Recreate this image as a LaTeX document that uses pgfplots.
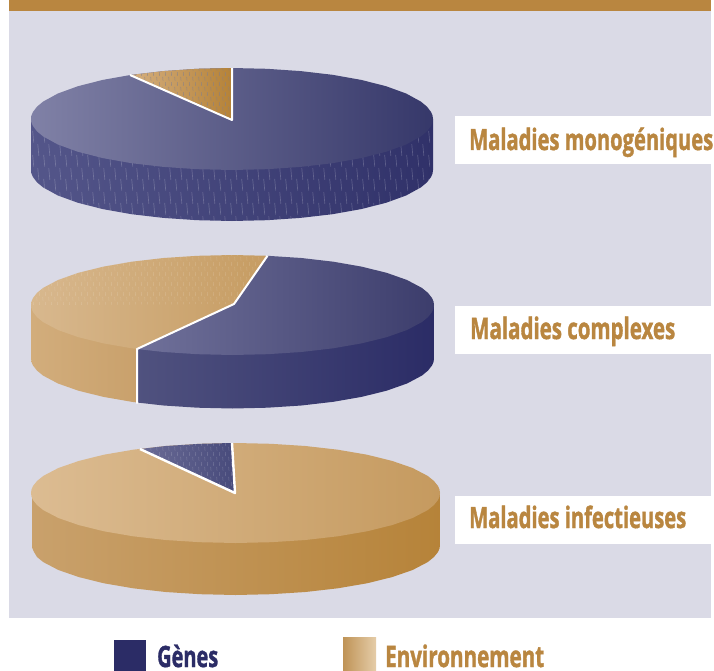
\documentclass[border=0pt]{standalone}
\usepackage{fontspec}
\setmainfont{Open Sans}[BoldFeatures={FakeBold=1.6}]
\usepackage{graphicx}
\usepackage{pgfplots}
\usepackage{pgfplotstable}
\usetikzlibrary{patterns}
\pgfplotsset{compat=1.18}

\definecolor{panel}{HTML}{DADAE6}
\definecolor{gold}{HTML}{B98640}
\definecolor{navy}{HTML}{2B2C66}
\definecolor{sideblueL}{HTML}{50527F}
\definecolor{sideA1}{HTML}{54568A}
\definecolor{sideA2}{HTML}{303169}
\definecolor{topblueL}{HTML}{8081A6}
\definecolor{topblueM}{HTML}{565886}
\definecolor{topblueR}{HTML}{36386A}
\definecolor{wedgeL}{HTML}{D4AE7E}
\definecolor{wedgeR}{HTML}{B58237}
\definecolor{wedgedash}{HTML}{7F7F90}
\definecolor{sidesandL}{HTML}{D2AD7C}
\definecolor{sidesandR}{HTML}{C9A16C}
\definecolor{topsandL}{HTML}{D8B88E}
\definecolor{topsandR}{HTML}{C69C62}
\definecolor{midblueL}{HTML}{70719A}
\definecolor{midblueR}{HTML}{3C3D6C}
\definecolor{lowsideR}{HTML}{B68339}
\definecolor{lowtopL}{HTML}{DCBC92}
\definecolor{lowtopR}{HTML}{C59A5F}
\definecolor{lowwedgeL}{HTML}{6B6C96}
\definecolor{lowwedgeR}{HTML}{474A7B}
\definecolor{keyL}{HTML}{BF9356}
\definecolor{keyR}{HTML}{E5CDA9}

% short slanted dashes, staggered
\pgfdeclarepatternformonly{dashes}{\pgfpointorigin}{\pgfqpoint{10.6pt}{24pt}}{\pgfqpoint{10.6pt}{24pt}}{
	\pgfsetlinewidth{0.7pt}
	\pgfpathmoveto{\pgfqpoint{1.8pt}{0.5pt}}\pgfpathlineto{\pgfqpoint{0.7pt}{12.5pt}}
	\pgfpathmoveto{\pgfqpoint{7.1pt}{11.5pt}}\pgfpathlineto{\pgfqpoint{6.0pt}{23.5pt}}
	\pgfusepath{stroke}
}
\pgfdeclarepatternformonly{fine}{\pgfpointorigin}{\pgfqpoint{6pt}{10pt}}{\pgfqpoint{6pt}{10pt}}{
	\pgfsetlinewidth{0.6pt}
	\pgfpathmoveto{\pgfqpoint{1.2pt}{0.5pt}}\pgfpathlineto{\pgfqpoint{0.8pt}{4.5pt}}
	\pgfpathmoveto{\pgfqpoint{4.2pt}{5.5pt}}\pgfpathlineto{\pgfqpoint{3.8pt}{9.5pt}}
	\pgfusepath{stroke}
}

% pie 1: monogeniques
\pgfplotstableread[row sep=\\]{x y\\31 119\\31 170\\31.5 173.6\\33 177.1\\37 182.3\\43.1 187.4\\57.9 195.5\\78 202.8\\102.8 209.1\\131.5 214.2\\163.3 217.9\\197.1 220.2\\232 221\\266.9 220.2\\300.7 217.9\\332.5 214.2\\361.2 209.1\\386 202.8\\406.1 195.5\\420.9 187.4\\427 182.3\\431 177.1\\432.5 173.6\\433 170\\433 119\\}\sideA
\pgfplotstableread[row sep=\\]{x y\\31 119\\31.5 115.4\\33 111.9\\37 106.7\\43.1 101.6\\57.9 93.5\\78 86.2\\102.8 79.9\\131.5 74.8\\163.3 71.1\\197.1 68.8\\232 68\\266.9 68.8\\300.7 71.1\\332.5 74.8\\361.2 79.9\\386 86.2\\406.1 93.5\\420.9 101.6\\427 106.7\\431 111.9\\432.5 115.4\\433 119\\432.5 122.6\\431 126.1\\427 131.3\\420.9 136.4\\406.1 144.5\\386 151.8\\361.2 158.1\\332.5 163.2\\300.7 166.9\\266.9 169.2\\232 170\\197.1 169.2\\163.3 166.9\\131.5 163.2\\102.8 158.1\\78 151.8\\57.9 144.5\\43.1 136.4\\37 131.3\\33 126.1\\31.5 122.6\\}\topA
\pgfplotstableread[row sep=\\]{x y\\232 120\\232 68\\197.1 68.8\\163.3 71.1\\131 75\\}\wedgeA

% pie 2: complexes
\pgfplotstableread[row sep=\\]{x y\\31 305\\31 358.5\\31.5 362\\33 365.5\\37 370.6\\43.1 375.6\\58 383.5\\78.1 390.6\\103 396.8\\131.7 401.8\\137 402.5\\137 305\\}\sideBenv
\pgfplotstableread[row sep=\\]{x y\\137 305\\137 402.5\\163.6 405.5\\197.5 407.7\\232.5 408.5\\267.5 407.7\\301.4 405.5\\333.3 401.8\\362 396.8\\386.9 390.6\\407 383.5\\421.9 375.6\\428 370.6\\432 365.5\\433.5 362\\434 358.5\\434 305\\}\sideBgen
\pgfplotstableread[row sep=\\]{x y\\137 349\\131.7 348.3\\103 343.3\\78.1 337.1\\58 330\\43.1 322.1\\37 317.1\\33 312\\31.5 308.5\\31 305\\31.5 301.5\\33 298\\37 292.9\\43.1 287.9\\58 280\\78.1 272.9\\103 266.7\\131.7 261.7\\163.6 258\\197.5 255.8\\232.5 255\\267.5 255.8\\234 304\\}\topBenv
\pgfplotstableread[row sep=\\]{x y\\31 305\\31.5 301.5\\33 298\\37 292.9\\43.1 287.9\\58 280\\78.1 272.9\\103 266.7\\131.7 261.7\\163.6 258\\197.5 255.8\\232.5 255\\267.5 255.8\\234 304\\}\dotsB
\pgfplotstableread[row sep=\\]{x y\\267.5 255.8\\301.4 258\\333.3 261.7\\362 266.7\\386.9 272.9\\407 280\\421.9 287.9\\428 292.9\\432 298\\433.5 301.5\\434 305\\433.5 308.5\\432 312\\428 317.1\\421.9 322.1\\407 330\\386.9 337.1\\362 343.3\\333.3 348.3\\301.4 352\\267.5 354.2\\232.5 355\\197.5 354.2\\163.6 352\\137 349\\234 304\\}\topBgen

% pie 3: infectieuses
\pgfplotstableread[row sep=\\]{x y\\32 493\\32 545\\32.5 548.5\\34 552\\37.1 557.1\\43.3 562.1\\58.4 570\\78.9 577.1\\104 583.3\\133.2 588.3\\165.6 592\\200 594.2\\235.5 595\\271 594.2\\305.4 592\\337.8 588.3\\367 583.3\\392.1 577.1\\412.6 570\\427.7 562.1\\433.9 557.1\\438 552\\439.5 548.5\\440 545\\440 493\\}\sideC
\pgfplotstableread[row sep=\\]{x y\\31 493\\31.5 489.5\\33 486\\37.1 480.9\\43.3 475.9\\58.4 468\\78.9 460.9\\104 454.7\\133.2 449.7\\165.6 446\\200 443.8\\235.5 443\\271 443.8\\305.4 446\\337.8 449.7\\367 454.7\\392.1 460.9\\412.6 468\\427.7 475.9\\433.9 480.9\\438 486\\439.5 489.5\\440 493\\439.5 496.5\\438 500\\433.9 505.1\\427.7 510.1\\412.6 518\\392.1 525.1\\367 531.3\\337.8 536.3\\305.4 540\\271 542.2\\235.5 543\\200 542.2\\165.6 540\\133.2 536.3\\104 531.3\\78.9 525.1\\58.4 518\\43.3 510.1\\37.1 505.1\\33 500\\31.5 496.5\\}\topC
\pgfplotstableread[row sep=\\]{x y\\235 493\\232 443\\200 443.8\\165.6 446\\140 449\\}\wedgeC

\newcommand{\lab}[5]{\node[anchor=base west,inner sep=0pt,text=#5] at (axis cs:#1,#2) {\resizebox{#3pt}{22.5pt}{\bfseries #4}};}

\begin{document}
\begin{tikzpicture}
	\begin{axis}[
		hide axis,
		scale only axis,
		width=714pt,
		height=671pt,
		xmin=0,
		xmax=714,
		ymin=0,
		ymax=671,
		y dir=reverse,
		every axis plot/.append style={draw=none, line join=round}]
		% page, band, panel
		\addplot[fill=white] coordinates {(0,0) (714,0) (714,671) (0,671)} --cycle;
		\addplot[fill=panel] coordinates {(9,11) (711,11) (711,618) (9,618)} --cycle;
		\addplot[fill=gold] coordinates {(9,0) (711,0) (711,11) (9,11)} --cycle;

		% pie 1
		\addplot[left color=sideA1, right color=sideA2] table {\sideA} --cycle;
		\addplot[pattern=dashes, pattern color=white, fill opacity=0.2] table {\sideA} --cycle;
		\addplot[left color=topblueL, middle color=topblueM, right color=topblueR] table {\topA} --cycle;
		\addplot[left color=wedgeL, right color=wedgeR] table {\wedgeA} --cycle;
		\addplot[pattern=fine, pattern color=wedgedash, fill opacity=0.7] table {\wedgeA} --cycle;
		\addplot[draw=white, line width=2pt] coordinates {(232,68) (232,120) (130,75)};

		% pie 2
		\addplot[left color=sidesandL, right color=sidesandR] table {\sideBenv} --cycle;
		\addplot[left color=sideblueL, right color=navy] table {\sideBgen} --cycle;
		\addplot[left color=topsandL, right color=topsandR] table {\topBenv} --cycle;
		\addplot[pattern=fine, pattern color=white, fill opacity=0.16] table {\dotsB} --cycle;
		\addplot[left color=midblueL, right color=midblueR] table {\topBgen} --cycle;
		\addplot[draw=white, line width=2pt] coordinates {(267.5,255.8) (234,304) (137,349) (137,403.5)};

		% pie 3
		\addplot[left color=sidesandR, right color=lowsideR] table {\sideC} --cycle;
		\addplot[left color=lowtopL, right color=lowtopR] table {\topC} --cycle;
		\addplot[left color=lowwedgeL, right color=lowwedgeR] table {\wedgeC} --cycle;
		\addplot[pattern=fine, pattern color=white, fill opacity=0.2] table {\wedgeC} --cycle;
		\addplot[draw=white, line width=2.4pt] coordinates {(232,443) (235,493) (140,449)};

		% label boxes
		\addplot[fill=white] coordinates {(455,116) (711,116) (711,164) (455,164)} --cycle;
		\addplot[fill=white] coordinates {(455,306) (711,306) (711,354) (455,354)} --cycle;
		\addplot[fill=white] coordinates {(455,496) (711,496) (711,544) (455,544)} --cycle;

		% legend
		\addplot[fill=navy] coordinates {(114,640) (146,640) (146,671) (114,671)} --cycle;
		\addplot[left color=keyL, right color=keyR] coordinates {(343,637) (376,637) (376,671) (343,671)} --cycle;

		\lab{469}{150}{244}{Maladies monogéniques}{gold}
		\lab{470}{339}{205}{Maladies complexes}{gold}
		\lab{469}{528}{217}{Maladies infectieuses}{gold}
		\lab{157}{667}{61}{Gènes}{navy}
		\lab{385}{667}{159}{Environnement}{gold}
	\end{axis}
\end{tikzpicture}
\end{document}
